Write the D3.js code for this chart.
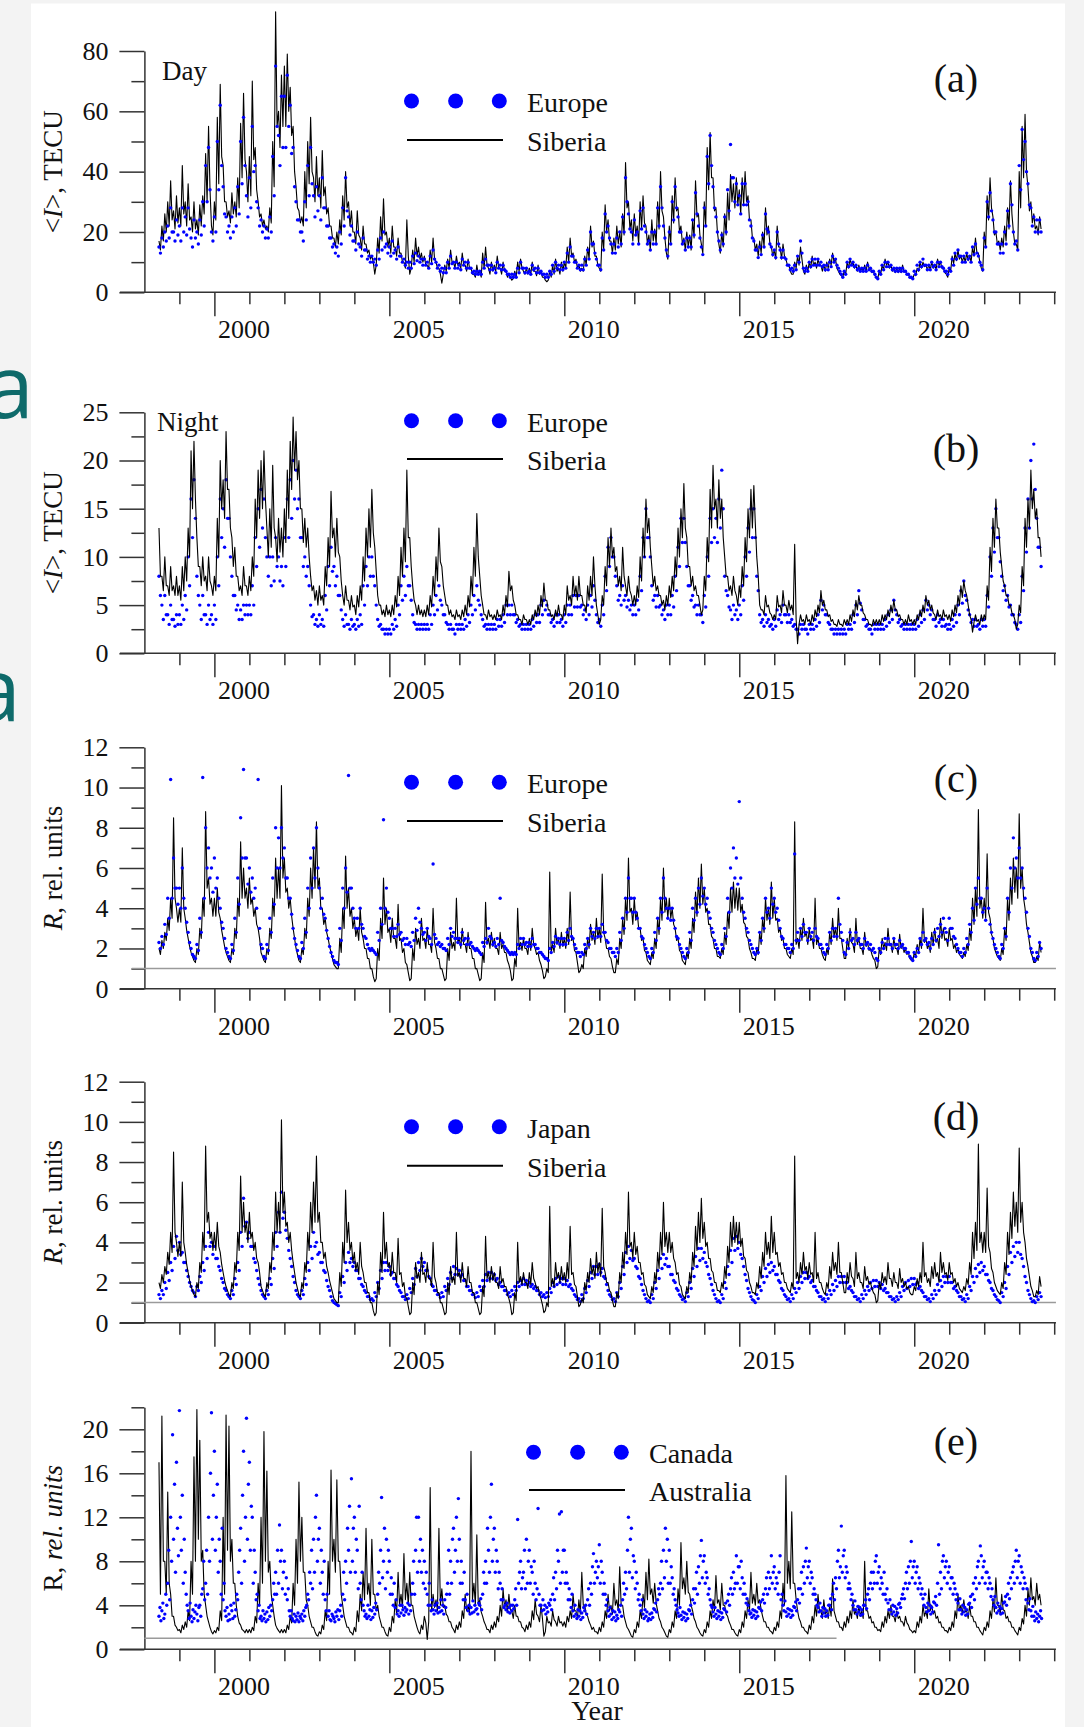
<!DOCTYPE html>
<html>
<head>
<meta charset="utf-8">
<script src="https://cdn.jsdelivr.net/npm/d3@7"></script>
<style>
  body { margin: 0; background: #f3f3f3; }
  svg { display: block; }
</style>
</head>
<body>
<svg id="chart" width="1084" height="1727"></svg>
<script>
// samples start in June 1998: one upper and one lower reading per month
// (canadaR: three readings per month)
const startYear = 1998 + 5 / 12;

const majorYears = [2000, 2005, 2010, 2015, 2020];

// (a) day, TECU
const siberiaDay = [
  17, 22, 26, 30, 37, 27, 32,
  28, 42, 30, 36, 25, 30, 24, 29, 32, 46, 55, 22,
  30, 58, 69, 42, 30, 27, 33, 30, 38, 56, 66, 40,
  45, 70, 48, 30, 26, 24, 22, 28, 50, 93, 60, 72,
  75, 79, 68, 55, 35, 27, 25, 40, 50, 58, 38, 45,
  38, 47, 35, 28, 22, 18, 20, 24, 32, 40, 30, 27,
  20, 27, 18, 22, 16, 14, 12, 6, 18, 25, 31, 20,
  18, 22, 15, 18, 13, 10, 24, 6, 14, 18, 15, 13,
  12, 9, 14, 18, 10, 8, 3, 9, 11, 14, 10, 12,
  10, 13, 9, 11, 8, 6, 9, 7, 13, 15, 8, 10,
  9, 12, 8, 10, 7, 6, 4, 7, 10, 11, 7, 8,
  8, 10, 7, 9, 7, 5, 3.5, 7, 9, 11, 8, 10,
  10, 15, 18, 13, 11, 9, 8, 12, 15, 22, 17, 12,
  8, 20, 29, 24, 17, 18, 22, 20, 26, 43, 30, 24,
  26, 22, 30, 32, 22, 19, 24, 21, 30, 40, 25, 13,
  22, 32, 38, 28, 22, 18, 20, 19, 24, 37, 26, 16,
  30, 48, 53, 38, 28, 16, 20, 26, 33, 39, 36, 38,
  34, 38, 40, 32, 24, 18, 16, 17, 20, 28, 22, 15,
  14, 22, 15, 16, 11, 9, 6, 10, 12, 15, 7, 9,
  10, 12, 10, 11, 9, 9, 10, 11, 13, 11, 7, 5.5,
  7, 10, 11, 10, 9, 9, 8, 9, 10, 8, 7, 5,
  7, 9, 11, 10, 9, 8, 8, 8, 9, 7, 6, 5,
  6, 8, 10, 10, 9, 9, 10, 9, 11, 10, 8, 6,
  8, 12, 13, 14, 12, 12, 13, 12, 15, 18, 13, 8,
  20, 32, 38, 25, 20, 17, 18, 22, 28, 37, 20, 16,
  40, 55, 59, 35, 30, 26, 22, 25
];
const siberiaDayLow = [
  14, 17, 20, 22, 24, 21, 23,
  22, 26, 22, 24, 20, 21, 19, 22, 26, 30, 34, 19,
  24, 36, 45, 30, 25, 23, 26, 25, 28, 38, 44, 30,
  32, 44, 34, 25, 22, 21, 20, 23, 35, 55, 48, 55,
  55, 60, 52, 40, 28, 23, 22, 28, 36, 40, 30, 32,
  28, 32, 26, 22, 18, 15, 16, 19, 24, 28, 22, 20,
  16, 19, 14, 16, 13, 11, 10, 9, 13, 17, 19, 15,
  13, 15, 12, 13, 10, 8, 12, 8, 10, 12, 11, 10,
  9, 8, 10, 11, 8, 6, 6, 7, 8, 10, 8, 9,
  8, 9, 7, 8, 6, 5, 6, 5, 8, 9, 6, 7,
  7, 8, 6, 7, 5, 5, 4.5, 5, 7, 8, 6, 6,
  6, 7, 5.5, 6, 5, 4, 4, 5, 6, 7, 6, 7,
  8, 10, 12, 10, 8, 7, 7, 9, 11, 15, 12, 9,
  7, 14, 20, 17, 13, 14, 16, 15, 19, 28, 21, 17,
  19, 16, 21, 23, 16, 14, 17, 16, 21, 27, 18, 11,
  16, 23, 27, 20, 16, 14, 15, 14, 18, 25, 19, 13,
  22, 34, 38, 27, 20, 13, 15, 19, 24, 30, 28, 29,
  26, 29, 30, 24, 18, 14, 12, 13, 15, 19, 16, 12,
  11, 15, 11, 12, 9, 7, 6, 8, 9, 11, 6, 7,
  8, 9, 8, 9, 7, 7, 8, 9, 10, 8, 6, 5,
  6, 8, 9, 8, 7, 7, 7, 7, 8, 6.5, 5.5, 4.5,
  6, 7.5, 9, 8, 7, 6.5, 6.5, 6.5, 7, 6, 5, 4.5,
  5.5, 7, 8, 8.5, 7.5, 7.5, 8, 7.5, 9, 8, 6.5, 5,
  7, 9.5, 10.5, 11, 10, 10, 10.5, 10, 12, 13, 10, 7,
  15, 24, 28, 19, 16, 14, 15, 17, 21, 26, 16, 14,
  28, 38, 40, 27, 23, 21, 19, 21
];
const europeDay = [
  15, 18, 20, 22, 28, 20, 24,
  22, 28, 25, 28, 18, 24, 20, 24, 30, 42, 48, 20,
  25, 50, 62, 35, 25, 22, 25, 28, 35, 50, 58, 32,
  38, 55, 42, 28, 24, 22, 21, 25, 45, 75, 52, 65,
  65, 72, 62, 48, 30, 24, 20, 30, 42, 48, 32, 35,
  32, 38, 28, 22, 18, 16, 15, 20, 28, 38, 25, 22,
  17, 20, 15, 18, 14, 12, 12, 11, 14, 18, 20, 16,
  15, 17, 14, 15, 12, 11, 10, 10, 12, 13, 12, 11,
  11, 10, 12, 14, 10, 9, 8, 8, 10, 12, 10, 10,
  9, 11, 10, 10, 8, 7, 7, 7, 10, 11, 9, 9,
  8, 10, 9, 9, 7, 6, 6, 6, 8, 10, 8, 8,
  7, 9, 8, 8, 7, 6, 6, 7, 9, 10, 9, 9,
  10, 13, 15, 12, 10, 9, 9, 11, 14, 20, 16, 11,
  9, 18, 26, 22, 16, 16, 18, 20, 25, 38, 26, 20,
  24, 20, 27, 28, 20, 17, 20, 20, 28, 35, 22, 14,
  20, 30, 35, 25, 20, 17, 18, 18, 24, 33, 22, 15,
  28, 45, 52, 35, 25, 17, 19, 25, 34, 49, 38, 36,
  32, 36, 36, 30, 22, 17, 14, 15, 19, 26, 20, 15,
  14, 20, 14, 14, 11, 9, 8, 9, 12, 17, 8, 8,
  10, 11, 11, 11, 10, 9, 9, 10, 12, 11, 8, 6,
  7, 10, 11, 10, 9, 8, 8, 8, 9, 8, 7, 5,
  7, 9, 10, 10, 9, 8, 8, 8, 8, 7, 6, 5,
  7, 9, 10, 11, 9, 9, 10, 9, 10, 10, 8, 7,
  8, 11, 13, 14, 12, 12, 13, 12, 15, 16, 12, 9,
  18, 30, 33, 24, 20, 16, 16, 20, 27, 36, 20, 17,
  42, 54, 50, 36, 28, 25, 24, 24
];
const europeDayLow = [
  13, 15, 17, 18, 20, 17, 19,
  17, 20, 19, 21, 15, 18, 16, 19, 22, 30, 34, 17,
  20, 34, 42, 26, 20, 18, 20, 22, 26, 36, 42, 25,
  28, 40, 30, 22, 20, 18, 18, 20, 32, 55, 42, 48,
  48, 55, 46, 35, 24, 20, 17, 24, 32, 36, 25, 27,
  24, 28, 22, 18, 15, 13, 12, 16, 22, 27, 19, 17,
  14, 16, 12, 14, 11, 10, 10, 9, 11, 14, 15, 13,
  12, 13, 11, 12, 10, 9, 8, 8, 9.5, 10.5, 10, 9,
  9, 8, 9.5, 11, 8, 7, 6.5, 6.5, 8, 9.5, 8, 8,
  7.5, 9, 8, 8, 6.5, 6, 6, 6, 8, 9, 7.5, 7.5,
  6.5, 8, 7.5, 7.5, 6, 5, 5, 5, 6.5, 8, 6.5, 6.5,
  6, 7.5, 6.5, 6.5, 6, 5, 5, 6, 7, 8, 7.5, 7.5,
  8, 10, 12, 10, 8, 7.5, 7.5, 9, 11, 16, 13, 9,
  7.5, 14, 20, 18, 13, 13, 15, 16, 20, 30, 21, 16,
  19, 16, 21, 22, 16, 14, 16, 16, 22, 28, 18, 12,
  16, 24, 28, 20, 16, 14, 15, 15, 19, 26, 18, 12.5,
  22, 36, 42, 28, 20, 14, 16, 20, 27, 38, 30, 29,
  26, 29, 29, 24, 18, 14, 11.5, 12.5, 15, 21, 16, 12.5,
  11.5, 16, 11.5, 11.5, 9, 7.5, 7, 7.5, 10, 13, 7, 7,
  8.5, 9, 9, 9, 8.5, 7.5, 7.5, 8.5, 10, 9, 7, 5,
  6, 8.5, 9, 8.5, 7.5, 7, 7, 7, 7.5, 7, 6, 4.5,
  6, 7.5, 8.5, 8.5, 7.5, 7, 7, 7, 7, 6, 5, 4.5,
  6, 7.5, 8.5, 9, 7.5, 7.5, 8.5, 7.5, 8.5, 8.5, 7, 6,
  7, 9, 11, 12, 10, 10, 11, 10, 12.5, 13, 10, 7.5,
  15, 25, 27, 20, 16, 13, 13, 16, 22, 29, 16, 14,
  34, 44, 40, 29, 22, 20, 20, 20
];

// (b) night, TECU
const siberiaNight = [
  13, 8, 10, 7, 9, 7, 8,
  7, 9, 10, 13, 21, 22, 12, 9, 10, 8, 10, 7,
  8, 14, 20, 18, 23, 17, 12, 11, 8, 7, 9, 7,
  8, 10, 16, 19, 20, 21, 13, 15, 19.5, 12, 14, 13,
  15, 19, 22, 24.5, 23, 20, 15, 14, 13, 8, 7, 6.5,
  7, 6, 9, 12, 16.8, 13, 14, 10, 6, 7, 5.5, 6,
  5, 6, 7, 10, 13, 15, 17, 11, 6, 5, 4.5, 5,
  4.5, 5, 6, 8, 11, 13, 19, 12, 7, 5, 5, 4.5,
  4.5, 5, 6, 8, 10, 13, 9, 6, 5, 4.5, 4, 4.5,
  4, 4.5, 5, 6, 8, 11, 14.5, 8, 5, 4, 4.5, 4,
  4, 4.5, 4, 5, 6, 8.5, 7, 5, 4, 3.5, 4, 3.5,
  3.5, 4, 4.5, 5, 6, 7.3, 5.5, 4.5, 4, 4.5, 5, 4,
  5, 7, 6, 8, 7, 8, 6, 5, 7, 8, 10, 5,
  3, 6, 9, 12, 13, 11, 9, 8, 11, 7, 8, 6,
  6, 7, 10, 13, 16, 14, 9, 8, 7, 6, 5.5, 6,
  7, 8, 10, 13, 15, 17.6, 12, 9, 8, 7, 6, 4,
  8, 12, 17, 19.5, 16, 18, 16, 10, 8, 7, 8, 6,
  7, 9, 12, 15, 17, 17.4, 10, 5, 4.5, 6, 5, 4,
  4, 6, 5, 6.5, 5, 5.5, 5, 11.3, 1, 4, 3.5, 4,
  3.5, 4, 4.5, 5, 6.5, 5.5, 4.5, 4, 3.5, 3, 3.5, 3,
  3.5, 3.5, 4, 4.5, 5.5, 6, 5, 4, 3.5, 3, 3.5, 3.5,
  3.5, 4, 4, 4.5, 5, 5.5, 4.5, 4, 3.5, 3.5, 4, 3.5,
  3.5, 4, 4.5, 5, 6, 5.5, 5, 4, 4.5, 4, 4.5, 4,
  4, 4.5, 5, 6, 7, 7.5, 6, 4, 2.2, 4, 3.5, 4,
  4, 7, 11, 14, 16, 13, 9, 7, 6, 5, 4, 2.5,
  5, 9, 14, 16, 19, 17, 15, 12
];
const siberiaNightLow = [
  8, 6.5, 7, 6, 6.5, 6, 6,
  5.5, 6.5, 7.5, 10, 15, 16, 9, 7, 7.5, 6.5, 7.5, 6,
  6.5, 10, 15, 14, 17, 13, 9, 8, 6.5, 6, 7, 6,
  6.5, 8, 12, 14, 15, 16, 10, 11, 13, 9.5, 10.5, 10,
  11.5, 14, 17, 19, 18, 15, 11.5, 11, 10, 6.5, 5.5, 5,
  5.5, 5, 7, 9, 12, 10, 10.5, 7.5, 5, 5.5, 4.5, 4.8,
  4, 4.8, 5.5, 7.5, 10, 11, 12.5, 8.5, 5, 4, 3.8, 4,
  3.8, 4, 4.8, 6, 8, 9.5, 12, 9, 5.5, 4, 4, 3.8,
  3.8, 4, 4.8, 6, 7.5, 9.5, 7, 5, 4, 3.8, 3.5, 3.8,
  3.5, 3.8, 4, 4.8, 6, 8, 10, 6, 4, 3.5, 3.8, 3.5,
  3.5, 3.8, 3.5, 4, 4.8, 6.5, 5.5, 4, 3.5, 3, 3.5, 3,
  3, 3.5, 3.8, 4, 4.8, 5.5, 4.5, 3.8, 3.5, 3.8, 4, 3.5,
  4, 5.5, 5, 6, 5.5, 6, 5, 4.2, 5.5, 6, 7, 4,
  3.5, 5, 7, 9, 10, 8.5, 7, 6.5, 8, 6, 6.5, 5,
  5, 5.8, 7.5, 10, 12.5, 11, 7, 6.5, 6, 5, 4.5, 5,
  5.8, 6.5, 8, 10, 12, 13, 9, 7, 6.5, 6, 5, 4.5,
  6.5, 9.5, 13, 15, 13, 14, 12, 8, 6.5, 6, 6.5, 5,
  5.8, 7, 9.5, 12, 13, 13.5, 8, 4.5, 4, 4.8, 4.2, 3.5,
  3.5, 4.8, 4.2, 5, 4.2, 4.5, 4, 3.5, 3, 3.3, 3, 3.3,
  3, 3.3, 3.8, 4.2, 5, 4.5, 3.8, 3.3, 3, 2.8, 3, 2.8,
  3, 3, 3.3, 3.8, 4.5, 5, 4.2, 3.5, 3, 2.8, 3, 3,
  3, 3.3, 3.5, 3.8, 4.2, 4.5, 3.8, 3.5, 3, 3, 3.3, 3,
  3, 3.5, 3.8, 4.2, 5, 4.5, 4.2, 3.5, 3.8, 3.5, 3.8, 3.5,
  3.3, 3.8, 4.2, 5, 5.8, 6.5, 5, 3.5, 3.2, 3.3, 3, 3.3,
  3.5, 5.5, 8.5, 11, 13, 10.5, 7.5, 6, 5, 4.2, 3.5, 3,
  4.2, 7, 11, 13, 15, 14, 12, 10
];
const europeNight = [
  8, 5, 6, 4, 5, 3.5, 4,
  4, 5, 6, 10, 16, 18, 8, 5, 6, 4, 5, 4,
  5, 10, 16, 15, 18, 14, 8, 6, 5, 4.5, 5, 5,
  5, 7, 12, 15, 17, 16, 10, 10, 10, 12, 10, 9,
  12, 16, 18, 20, 19, 16, 12, 10, 9, 5, 4, 3.5,
  4, 3.5, 6, 9, 11, 9, 8, 6, 3.5, 4, 3, 3.5,
  3, 3.5, 4, 7, 9, 10, 10, 7, 3.5, 3, 2.5, 2.5,
  2.5, 3, 3.5, 5, 7, 8, 9, 7, 4, 3, 3, 3,
  3, 3, 4, 5, 6, 7, 5, 4, 3, 3, 2.5, 3,
  3, 3, 3.5, 4, 5, 6, 7, 5, 3.5, 3, 3, 3,
  3, 3.5, 3.5, 4, 5, 5, 5, 4, 3.5, 3, 3, 3,
  3, 3.5, 4, 4, 5, 5.5, 5, 4, 3.5, 4, 4, 3.5,
  4, 5, 5, 6, 6, 6, 5, 4.5, 5, 6, 7, 4,
  3.5, 5, 8, 11, 12, 10, 7, 6, 7, 6, 5.5, 5,
  5, 5.5, 8, 12, 15, 12, 7, 6, 6, 5, 4.5, 5,
  5, 6, 8, 11, 14, 14, 9, 7, 6, 5, 5, 4,
  6, 10, 14, 15, 14, 16, 19, 8, 6, 4.5, 5, 4.5,
  5, 7, 10, 13, 15, 15, 8, 4, 3.5, 4, 3.5, 3,
  3.5, 4.5, 4, 5, 4, 4, 3.5, 3, 2.5, 3, 3, 2.5,
  3, 3, 3.5, 4, 5.5, 5, 4, 3, 2.5, 2.5, 2.5, 2.5,
  2.5, 3, 3, 4, 5, 6.5, 4.5, 3.5, 3, 2.5, 3, 3,
  3, 3, 3.5, 4, 4.5, 5.5, 4, 3.5, 3, 3, 3, 3,
  3, 3.5, 4, 4.5, 5.5, 5, 4.5, 3.5, 4, 3.5, 3.5, 3,
  3, 3.5, 4, 5, 6.5, 7.5, 5.5, 4, 3.5, 3.5, 3, 3.5,
  3.5, 6, 10, 13, 15, 12, 8, 7, 6, 5, 4, 3,
  4, 8, 13, 16, 20, 21.7, 14, 11
];
const europeNightLow = [
  6, 3.5, 4, 3, 3.5, 2.8, 3,
  3, 3.5, 4.5, 7, 12, 14, 6, 3.5, 4, 3, 3.5, 3,
  3.5, 7, 12, 11, 14, 10, 6, 4.5, 3.5, 3.5, 4, 4,
  4, 5, 9, 11, 13, 12, 8, 7, 7.5, 9, 7.5, 7,
  9, 12, 14, 16, 15, 12, 9, 8, 7, 3.8, 3, 2.8,
  3, 2.8, 4.5, 7, 8.5, 7, 6, 4.5, 2.8, 3, 2.5, 2.8,
  2.5, 2.8, 3, 5, 7, 8, 8, 5, 2.8, 2.5, 2, 2,
  2, 2.5, 2.8, 4, 5.5, 6, 7, 5.5, 3.2, 2.5, 2.5, 2.5,
  2.5, 2.5, 3, 4, 4.5, 5.5, 4, 3.2, 2.5, 2.5, 2, 2.5,
  2.5, 2.5, 2.8, 3.2, 4, 4.5, 5.5, 4, 2.8, 2.5, 2.5, 2.5,
  2.5, 2.8, 2.8, 3.2, 4, 4, 4, 3.2, 2.8, 2.5, 2.5, 2.5,
  2.5, 2.8, 3.2, 3.2, 4, 4.5, 4, 3.2, 2.8, 3.2, 3.2, 2.8,
  3.2, 4, 4, 4.8, 4.8, 4.8, 4, 3.5, 4, 4.8, 5.5, 3.2,
  2.8, 4, 6.5, 9, 10, 8, 5.5, 5, 5.5, 4.8, 4.5, 4,
  4, 4.5, 6.5, 10, 12, 10, 5.5, 4.8, 4.8, 4, 3.5, 4,
  4, 4.8, 6.5, 9, 11.5, 11.5, 7, 5.5, 4.8, 4, 4, 3.2,
  4.8, 8, 11.5, 12, 11.5, 13, 15, 6.5, 4.8, 3.5, 4, 3.5,
  4, 5.5, 8, 10.5, 12, 12, 6.5, 3.2, 2.8, 3.2, 2.8, 2.5,
  2.8, 3.5, 3.2, 4, 3.2, 3.2, 2.8, 2.5, 2, 2.5, 2.5, 2,
  2.5, 2.5, 2.8, 3.2, 4.5, 4, 3.2, 2.5, 2, 2, 2, 2,
  2, 2.5, 2.5, 3.2, 4, 5.2, 3.5, 2.8, 2.5, 2, 2.5, 2.5,
  2.5, 2.5, 2.8, 3.2, 3.5, 4.5, 3.2, 2.8, 2.5, 2.5, 2.5, 2.5,
  2.5, 2.8, 3.2, 3.5, 4.5, 4, 3.5, 2.8, 3.2, 2.8, 2.8, 2.5,
  2.5, 2.8, 3.2, 4, 5.2, 6, 4.5, 3.2, 2.8, 2.8, 2.5, 2.8,
  2.8, 4.8, 8, 10.5, 12, 9.5, 6.5, 5.5, 4.8, 4, 3.2, 2.5,
  3.2, 6.5, 10.5, 13, 16, 17, 11, 9
];

// (c), (d) R, rel. units -- the Siberia curve is the same in both panels
const siberiaR = [
  2.0, 2.4, 2.8, 3.5, 4.5, 8.5, 4.0,
  4.0, 7.0, 3.5, 2.5, 1.8, 1.4, 2.0, 3.0, 4.5, 8.8, 5.5, 4.5,
  4.5, 5.0, 3.5, 2.5, 1.8, 1.4, 2.0, 3.0, 4.5, 7.3, 6.0, 5.0,
  5.5, 4.5, 4.0, 3.0, 1.8, 1.4, 2.0, 3.0, 4.5, 6.5, 6.0, 10.1,
  6.5, 5.0, 4.5, 3.0, 2.0, 1.4, 2.0, 3.0, 4.5, 6.0, 7.0, 8.3,
  5.5, 4.0, 3.5, 2.5, 1.8, 1.2, 1.0, 2.5, 4.0, 6.6, 5.0, 4.0,
  3.5, 3.0, 4.0, 2.5, 2.0, 1.5, 1.0, 0.35, 2.0, 3.5, 5.5, 4.0,
  3.0, 3.5, 2.5, 4.2, 2.5, 2.0, 1.2, 0.4, 2.0, 3.0, 2.5, 3.5,
  2.5, 3.0, 2.2, 4.0, 2.0, 1.5, 1.0, 0.4, 2.0, 2.8, 2.3, 4.5,
  2.5, 3.0, 2.2, 2.8, 2.0, 1.5, 1.0, 0.4, 1.8, 4.3, 2.5, 2.8,
  2.5, 2.0, 2.8, 2.2, 1.8, 1.2, 0.4, 1.5, 4.0, 2.3, 2.5, 2.0,
  2.5, 3.0, 2.0, 1.8, 1.2, 0.5, 1.0, 5.8, 2.2, 3.0, 2.5, 2.8,
  2.5, 3.0, 4.8, 2.5, 1.8, 0.8, 1.2, 2.0, 2.5, 3.2, 2.8, 3.5,
  3.0, 5.7, 2.5, 2.0, 1.5, 0.8, 1.5, 2.5, 3.5, 4.5, 6.5, 4.0,
  4.5, 3.8, 3.0, 2.5, 1.8, 1.3, 1.8, 2.5, 3.5, 4.5, 6.0, 4.5,
  4.5, 4.0, 3.0, 2.5, 1.8, 1.3, 1.8, 2.5, 3.5, 4.8, 5.5, 6.2,
  5.0, 4.0, 3.2, 2.5, 2.0, 1.6, 2.0, 2.8, 3.8, 5.0, 5.3, 5.0,
  5.0, 4.2, 3.2, 2.5, 1.8, 1.5, 2.0, 2.8, 3.5, 4.5, 4.0, 5.3,
  4.5, 3.5, 3.0, 2.5, 2.0, 1.6, 2.0, 8.3, 2.5, 3.0, 3.5, 2.8,
  3.0, 2.5, 4.5, 2.5, 2.0, 1.5, 2.0, 2.8, 3.5, 3.0, 4.0, 2.5,
  1.5, 2.5, 3.0, 2.2, 3.5, 2.5, 2.0, 2.8, 2.3, 2.0, 1.5, 1.0,
  2.0, 2.5, 2.3, 3.0, 2.2, 2.5, 2.0, 2.7, 2.2, 2.0, 1.8, 1.4,
  1.8, 2.2, 2.5, 4.0, 2.5, 2.2, 2.8, 3.0, 2.5, 3.5, 3.0, 2.5,
  3.0, 2.5, 2.2, 2.0, 1.6, 1.8, 2.2, 3.0, 4.5, 5.0, 8.9, 4.5,
  4.5, 6.7, 3.5, 2.5, 1.8, 1.5, 2.0, 3.0, 4.5, 5.5, 6.5, 6.0,
  8.7, 6.0, 4.0, 2.8, 1.8, 1.3, 1.6, 2.3
];
const siberiaRLow = [
  1.7, 2.0, 2.4, 2.9, 3.5, 4.5, 3.3,
  3.3, 4.0, 2.9, 2.1, 1.6, 1.3, 1.7, 2.5, 3.6, 5.0, 4.2, 3.6,
  3.6, 3.8, 2.9, 2.1, 1.6, 1.3, 1.7, 2.5, 3.6, 4.5, 4.5, 4.0,
  4.2, 3.6, 3.2, 2.5, 1.6, 1.3, 1.7, 2.5, 3.6, 4.5, 4.5, 5.5,
  4.8, 4.0, 3.6, 2.5, 1.7, 1.3, 1.7, 2.5, 3.6, 4.5, 5.0, 5.0,
  4.0, 3.2, 2.8, 2.1, 1.5, 1.1, 1.0, 1.8, 3.0, 4.0, 3.6, 3.0,
  2.6, 2.4, 2.8, 2.0, 1.5, 1.0, 0.6, 0.5, 1.4, 2.5, 3.2, 2.8,
  2.3, 2.5, 2.0, 2.4, 1.8, 1.3, 0.8, 0.5, 1.4, 2.2, 2.0, 2.4,
  2.0, 2.2, 1.8, 2.3, 1.5, 1.0, 0.7, 0.5, 1.4, 2.0, 1.9, 2.3,
  2.0, 2.2, 1.8, 2.0, 1.5, 1.0, 0.7, 0.5, 1.3, 2.2, 2.0, 2.1,
  2.0, 1.7, 2.0, 1.8, 1.4, 0.9, 0.5, 1.1, 2.0, 1.9, 2.0, 1.7,
  1.9, 2.2, 1.7, 1.4, 0.9, 0.6, 0.8, 1.8, 1.8, 2.2, 2.0, 2.1,
  2.0, 2.2, 2.4, 1.9, 1.3, 0.9, 1.0, 1.6, 2.0, 2.4, 2.2, 2.5,
  2.3, 2.8, 2.0, 1.6, 1.1, 0.8, 1.2, 2.0, 2.7, 3.4, 3.8, 3.2,
  3.4, 3.0, 2.4, 1.9, 1.4, 1.2, 1.5, 2.0, 2.7, 3.4, 3.8, 3.5,
  3.5, 3.2, 2.4, 1.9, 1.4, 1.2, 1.5, 2.0, 2.8, 3.6, 4.0, 4.2,
  3.8, 3.2, 2.6, 2.0, 1.6, 1.5, 1.7, 2.2, 3.0, 3.8, 4.0, 3.9,
  3.8, 3.3, 2.6, 2.0, 1.5, 1.4, 1.7, 2.2, 2.8, 3.4, 3.2, 3.5,
  3.4, 2.8, 2.4, 2.0, 1.7, 1.5, 1.7, 2.2, 2.0, 2.4, 2.6, 2.2,
  2.4, 2.0, 2.2, 2.0, 1.7, 1.4, 1.7, 2.2, 2.6, 2.4, 2.5, 2.0,
  1.5, 2.0, 2.3, 1.8, 2.2, 2.0, 1.7, 2.1, 1.9, 1.7, 1.4, 1.1,
  1.7, 2.0, 1.9, 2.2, 1.8, 2.0, 1.7, 2.0, 1.8, 1.7, 1.5, 1.4,
  1.6, 1.8, 2.0, 2.3, 2.0, 1.8, 2.2, 2.3, 2.0, 2.5, 2.4, 2.1,
  2.4, 2.0, 1.8, 1.7, 1.5, 1.6, 1.9, 2.4, 3.2, 3.6, 4.0, 3.5,
  3.5, 3.8, 2.7, 2.0, 1.6, 1.4, 1.7, 2.4, 3.4, 4.2, 4.8, 4.5,
  5.0, 4.5, 3.2, 2.3, 1.6, 1.3, 1.4, 1.8
];
const europeR = [
  2.3, 2.6, 3.2, 4.5, 10.4, 6.5, 5.0,
  5.0, 6.0, 4.0, 2.8, 2.0, 1.6, 2.2, 3.5, 10.5, 8.0, 7.0, 6.0,
  6.5, 5.5, 4.0, 3.0, 2.0, 1.6, 2.2, 3.5, 5.5, 8.5, 10.9, 6.5,
  6.0, 5.5, 5.0, 10.4, 2.2, 1.6, 2.2, 3.5, 5.5, 8.0, 7.5, 8.0,
  7.0, 5.5, 4.5, 3.0, 2.2, 1.6, 2.3, 3.5, 5.0, 6.5, 7.0, 8.0,
  5.0, 4.5, 3.5, 2.5, 1.8, 1.4, 1.3, 3.0, 5.0, 6.0, 10.6, 5.0,
  3.5, 3.5, 4.0, 3.0, 2.5, 2.0, 2.0, 1.8, 2.8, 4.0, 8.4, 5.0,
  3.5, 3.0, 3.0, 3.2, 2.8, 2.5, 2.5, 2.3, 2.8, 3.5, 4.0, 3.0,
  2.8, 3.0, 2.5, 6.2, 2.5, 2.3, 2.2, 2.0, 2.5, 3.0, 2.8, 2.5,
  2.5, 2.8, 2.5, 2.5, 2.3, 2.0, 2.0, 1.8, 2.3, 2.5, 3.0, 2.5,
  2.3, 2.5, 4.5, 2.3, 2.0, 1.8, 1.8, 1.8, 2.2, 2.5, 2.5, 2.3,
  2.3, 2.5, 2.2, 2.0, 1.8, 1.6, 1.5, 2.0, 2.3, 2.6, 2.5, 2.5,
  2.5, 2.8, 3.0, 2.5, 2.0, 1.8, 1.8, 2.2, 2.5, 3.0, 2.8, 3.0,
  3.0, 3.2, 2.8, 2.3, 2.0, 1.8, 2.0, 2.8, 3.5, 4.5, 5.5, 4.5,
  4.5, 3.5, 3.0, 2.5, 2.0, 1.6, 2.0, 2.8, 3.5, 4.5, 5.5, 4.0,
  4.0, 4.0, 3.0, 2.5, 2.0, 1.6, 2.0, 2.8, 4.0, 4.5, 5.0, 5.5,
  5.0, 4.5, 3.5, 2.8, 2.2, 1.8, 2.2, 3.0, 4.5, 6.0, 7.0, 6.5,
  9.3, 4.5, 3.5, 2.8, 2.2, 1.8, 2.0, 2.8, 3.5, 4.5, 4.0, 5.0,
  4.5, 4.0, 3.0, 2.5, 2.2, 2.0, 2.2, 6.7, 2.8, 3.0, 3.2, 2.8,
  3.0, 2.8, 3.0, 2.5, 2.2, 1.8, 2.2, 2.8, 3.0, 3.0, 4.5, 2.8,
  1.8, 2.3, 2.8, 2.5, 2.8, 2.5, 2.2, 2.5, 2.3, 2.2, 2.0, 1.5,
  2.0, 2.3, 2.5, 2.5, 2.2, 2.5, 2.2, 2.4, 2.2, 2.0, 1.8, 1.5,
  1.8, 2.0, 2.5, 2.8, 2.5, 2.3, 2.5, 2.8, 3.0, 3.2, 3.5, 2.8,
  3.5, 3.0, 2.5, 2.0, 1.8, 2.0, 2.5, 3.2, 4.0, 5.0, 5.5, 4.5,
  4.0, 5.0, 3.2, 2.5, 2.0, 1.6, 2.2, 3.0, 4.5, 6.0, 7.5, 6.5,
  7.0, 6.0, 4.5, 3.0, 2.0, 1.5, 1.8, 2.3
];
const europeRLow = [
  2.0, 2.2, 2.7, 3.5, 4.5, 5.0, 4.2,
  4.0, 4.5, 3.3, 2.3, 1.7, 1.5, 1.9, 2.8, 4.5, 6.0, 5.5, 4.8,
  5.0, 4.5, 3.3, 2.5, 1.8, 1.5, 1.9, 2.8, 4.2, 6.5, 6.5, 5.2,
  4.8, 4.5, 4.0, 3.0, 2.0, 1.5, 1.9, 2.8, 4.2, 6.0, 6.0, 6.5,
  5.5, 4.5, 3.7, 2.5, 1.9, 1.5, 2.0, 2.8, 4.0, 5.0, 5.5, 6.0,
  4.0, 3.7, 2.9, 2.1, 1.6, 1.3, 1.2, 2.4, 4.0, 4.8, 5.0, 4.0,
  3.0, 3.0, 3.2, 2.6, 2.2, 1.9, 1.9, 1.7, 2.4, 3.2, 4.0, 3.8,
  3.0, 2.6, 2.6, 2.7, 2.4, 2.2, 2.2, 2.1, 2.4, 2.9, 3.3, 2.7,
  2.4, 2.6, 2.2, 2.7, 2.2, 2.1, 2.0, 1.9, 2.2, 2.6, 2.5, 2.3,
  2.2, 2.4, 2.2, 2.2, 2.1, 1.9, 1.9, 1.7, 2.1, 2.3, 2.6, 2.2,
  2.1, 2.2, 2.4, 2.1, 1.9, 1.7, 1.7, 1.7, 2.0, 2.2, 2.2, 2.1,
  2.1, 2.2, 2.0, 1.8, 1.7, 1.5, 1.4, 1.8, 2.1, 2.3, 2.2, 2.2,
  2.2, 2.4, 2.6, 2.2, 1.8, 1.6, 1.7, 2.0, 2.2, 2.6, 2.5, 2.6,
  2.6, 2.8, 2.4, 2.0, 1.8, 1.6, 1.8, 2.4, 3.0, 3.8, 4.5, 3.8,
  3.8, 3.0, 2.6, 2.2, 1.8, 1.5, 1.8, 2.4, 3.0, 3.8, 4.5, 3.5,
  3.4, 3.4, 2.6, 2.2, 1.8, 1.5, 1.8, 2.4, 3.4, 3.8, 4.2, 4.6,
  4.2, 3.8, 3.0, 2.4, 2.0, 1.7, 2.0, 2.6, 3.8, 5.0, 5.5, 5.2,
  5.5, 3.8, 3.0, 2.4, 2.0, 1.7, 1.8, 2.4, 3.0, 3.8, 3.5, 4.2,
  3.8, 3.4, 2.6, 2.2, 2.0, 1.8, 2.0, 2.4, 2.4, 2.6, 2.8, 2.4,
  2.6, 2.4, 2.6, 2.2, 2.0, 1.7, 2.0, 2.4, 2.6, 2.6, 3.2, 2.4,
  1.7, 2.0, 2.4, 2.2, 2.4, 2.2, 2.0, 2.2, 2.0, 1.9, 1.8, 1.4,
  1.8, 2.0, 2.2, 2.2, 2.0, 2.2, 2.0, 2.1, 2.0, 1.8, 1.6, 1.4,
  1.6, 1.8, 2.2, 2.4, 2.2, 2.0, 2.2, 2.4, 2.6, 2.8, 3.0, 2.4,
  3.0, 2.6, 2.2, 1.8, 1.6, 1.8, 2.2, 2.8, 3.4, 4.2, 4.5, 3.8,
  3.4, 4.0, 2.8, 2.2, 1.8, 1.5, 2.0, 2.6, 3.8, 5.0, 6.0, 5.5,
  5.5, 5.0, 3.8, 2.6, 1.8, 1.4, 1.6, 2.0
];
const japanR = [
  1.4, 1.6, 2.0, 2.5, 3.0, 3.8, 4.3,
  4.0, 3.5, 3.0, 2.3, 1.8, 1.5, 1.8, 2.3, 3.0, 3.8, 4.5, 4.0,
  3.8, 3.2, 2.6, 2.0, 1.6, 1.3, 1.6, 2.2, 3.0, 4.5, 6.2, 5.0,
  4.5, 3.8, 3.0, 2.2, 1.6, 1.3, 1.6, 2.2, 3.2, 4.5, 5.5, 6.5,
  5.5, 4.2, 3.2, 2.3, 1.6, 1.3, 1.6, 2.2, 3.0, 3.8, 4.5, 4.0,
  3.5, 3.0, 2.5, 1.8, 1.3, 1.0, 0.9, 1.5, 2.3, 3.0, 3.5, 3.2,
  3.0, 2.6, 2.2, 1.8, 1.5, 1.3, 1.2, 1.5, 2.0, 2.6, 3.0, 3.0,
  2.8, 2.5, 2.2, 1.8, 1.5, 1.3, 1.4, 1.7, 2.2, 2.7, 3.0, 3.2,
  3.0, 2.6, 2.2, 1.8, 1.6, 1.4, 1.5, 1.8, 2.2, 2.5, 2.8, 2.7,
  2.6, 2.4, 2.1, 1.8, 1.6, 1.4, 1.5, 1.8, 2.1, 2.4, 2.5, 2.5,
  2.4, 2.2, 2.0, 1.8, 1.6, 1.5, 1.6, 1.8, 2.0, 2.1, 2.2, 2.1,
  2.0, 1.9, 1.8, 1.6, 1.5, 1.4, 1.5, 1.7, 2.0, 2.2, 2.3, 2.2,
  2.2, 2.1, 1.9, 1.6, 1.3, 1.2, 1.4, 1.7, 2.1, 2.5, 2.8, 2.8,
  2.9, 2.7, 2.2, 1.6, 1.3, 1.2, 1.5, 2.0, 2.8, 3.5, 3.8, 3.6,
  3.2, 2.7, 2.2, 1.6, 1.2, 1.1, 1.4, 2.0, 2.6, 3.2, 3.4, 3.2,
  2.8, 2.4, 2.0, 1.6, 1.3, 1.2, 1.5, 2.0, 2.7, 3.3, 3.7, 3.7,
  3.5, 2.8, 2.2, 1.6, 1.2, 1.1, 1.4, 2.0, 2.8, 3.6, 4.2, 4.3,
  4.0, 3.2, 2.4, 1.7, 1.3, 1.1, 1.4, 1.8, 2.3, 2.7, 2.9, 3.0,
  2.8, 2.4, 2.0, 1.6, 1.3, 1.2, 1.4, 1.7, 2.0, 2.3, 2.5, 2.5,
  2.3, 2.1, 1.8, 1.5, 1.3, 1.2, 1.4, 1.6, 1.9, 2.1, 2.3, 2.3,
  2.3, 2.0, 1.8, 1.5, 1.3, 1.2, 1.4, 1.6, 1.8, 2.0, 2.1, 2.1,
  2.0, 1.9, 1.7, 1.5, 1.3, 1.2, 1.3, 1.5, 1.8, 2.0, 2.1, 2.2,
  2.2, 2.0, 1.8, 1.5, 1.3, 1.2, 1.4, 1.6, 1.9, 2.1, 2.3, 2.3,
  2.3, 2.0, 1.8, 1.5, 1.3, 1.2, 1.4, 1.8, 2.3, 2.7, 2.9, 3.0,
  2.8, 2.4, 2.0, 1.6, 1.3, 1.1, 1.5, 2.0, 2.8, 3.5, 3.8, 4.0,
  4.0, 3.2, 2.3, 1.6, 1.2, 1.1, 1.3, 1.5
];
const japanRLow = [
  1.2, 1.4, 1.7, 2.1, 2.6, 3.2, 3.6,
  3.4, 3.0, 2.6, 2.0, 1.6, 1.3, 1.6, 2.0, 2.6, 3.2, 3.8, 3.4,
  3.2, 2.8, 2.2, 1.7, 1.4, 1.2, 1.4, 1.9, 2.6, 3.8, 4.8, 4.2,
  3.8, 3.2, 2.6, 1.9, 1.4, 1.2, 1.4, 1.9, 2.7, 3.8, 4.5, 5.2,
  4.6, 3.6, 2.8, 2.0, 1.4, 1.2, 1.4, 1.9, 2.6, 3.2, 3.8, 3.4,
  3.0, 2.6, 2.1, 1.6, 1.1, 0.95, 0.85, 1.3, 2.0, 2.6, 3.0, 2.8,
  2.6, 2.2, 1.9, 1.6, 1.3, 1.15, 1.1, 1.3, 1.7, 2.2, 2.6, 2.6,
  2.4, 2.2, 1.9, 1.6, 1.3, 1.15, 1.2, 1.5, 1.9, 2.3, 2.6, 2.8,
  2.6, 2.3, 1.9, 1.6, 1.4, 1.25, 1.3, 1.6, 1.9, 2.2, 2.4, 2.4,
  2.3, 2.1, 1.8, 1.6, 1.4, 1.25, 1.3, 1.6, 1.8, 2.1, 2.2, 2.2,
  2.1, 1.9, 1.8, 1.6, 1.4, 1.3, 1.4, 1.6, 1.8, 1.9, 1.9, 1.9,
  1.8, 1.7, 1.6, 1.4, 1.3, 1.25, 1.3, 1.5, 1.8, 1.9, 2.0, 1.9,
  1.9, 1.8, 1.7, 1.4, 1.15, 1.05, 1.2, 1.5, 1.8, 2.2, 2.4, 2.4,
  2.5, 2.3, 1.9, 1.4, 1.15, 1.05, 1.3, 1.7, 2.4, 3.0, 3.2, 3.1,
  2.8, 2.3, 1.9, 1.4, 1.05, 1.0, 1.2, 1.7, 2.2, 2.7, 2.9, 2.8,
  2.4, 2.1, 1.7, 1.4, 1.15, 1.05, 1.3, 1.7, 2.3, 2.8, 3.1, 3.2,
  3.0, 2.4, 1.9, 1.4, 1.05, 1.0, 1.2, 1.7, 2.4, 3.0, 3.6, 3.7,
  3.4, 2.8, 2.1, 1.5, 1.15, 1.0, 1.2, 1.6, 2.0, 2.3, 2.5, 2.6,
  2.4, 2.1, 1.7, 1.4, 1.15, 1.05, 1.2, 1.5, 1.7, 2.0, 2.2, 2.2,
  2.0, 1.8, 1.6, 1.3, 1.15, 1.05, 1.2, 1.4, 1.6, 1.8, 2.0, 2.0,
  2.0, 1.7, 1.6, 1.3, 1.15, 1.05, 1.2, 1.4, 1.6, 1.7, 1.8, 1.8,
  1.7, 1.6, 1.5, 1.3, 1.15, 1.05, 1.15, 1.3, 1.6, 1.7, 1.8, 1.9,
  1.9, 1.7, 1.6, 1.3, 1.15, 1.05, 1.2, 1.4, 1.6, 1.8, 2.0, 2.0,
  2.0, 1.7, 1.6, 1.3, 1.15, 1.05, 1.2, 1.6, 2.0, 2.3, 2.5, 2.6,
  2.4, 2.1, 1.7, 1.4, 1.15, 1.0, 1.3, 1.7, 2.4, 3.0, 3.3, 3.5,
  3.4, 2.8, 2.0, 1.4, 1.05, 1.0, 1.15, 1.3
];

// (e) R, rel. units
const australiaR = [
  17, 21.2, 8, 14.3, 5, 3, 2,
  1.8, 2.2, 2.5, 3.5, 8, 17.5, 21.8, 19, 9, 4, 2.5, 1.6,
  1.7, 2.0, 3.5, 12, 21.3, 20.3, 10, 6, 3, 2.2, 1.7, 1.8,
  1.8, 2.0, 3.0, 6, 12, 19.8, 16.2, 8, 4, 2.2, 1.7, 1.8,
  1.8, 2.2, 3.0, 6, 10, 15.2, 12, 7, 4, 2.5, 2.0, 1.3,
  1.6, 2.2, 3.5, 8, 16.3, 10, 15.4, 8, 4, 2.5, 2.0, 1.5,
  2.0, 3.5, 5, 7, 11, 6, 10, 5, 4, 2.5, 2, 1.3,
  2.0, 3, 4.5, 7, 5, 8.7, 6, 7, 4, 2.5, 1.6, 2.2,
  3, 0.9, 14.7, 5, 4.5, 11, 5.5, 4, 3, 2.5, 1.8, 2.2,
  2.5, 3.5, 5, 4, 18, 6, 10.4, 4.5, 3, 2.2, 1.8, 2.2,
  2.5, 3, 4, 5.5, 4.5, 5, 3.5, 4, 3, 2.5, 1.9, 2.2,
  2.5, 3.5, 4.5, 3, 4, 1.2, 3, 2.5, 3.5, 2.5, 3, 2.5,
  2.5, 3, 3.5, 5, 3.5, 4.5, 7, 4, 3, 2.2, 2, 1.6,
  2, 2.5, 3.5, 5, 4, 6, 4.5, 7.5, 4, 2.5, 1.8, 1.2,
  1.8, 2.5, 3.5, 5, 7, 8.2, 5.5, 6, 3.5, 2.5, 1.8, 1.2,
  1.8, 2.5, 3.5, 5.5, 9.7, 6.5, 8, 5, 3.5, 2.5, 1.8, 1.3,
  1.8, 2.5, 3.5, 4.5, 6.7, 4.5, 6, 4, 3, 2.2, 1.8, 1.3,
  1.8, 2.5, 3.5, 4.5, 7, 5, 6, 4.5, 3, 2.5, 2, 1.6,
  2, 2.5, 3.5, 6, 15.8, 8, 12.5, 6, 3.5, 2.5, 2, 1.6,
  2.2, 3, 4, 5, 3.5, 4.5, 3.5, 4, 6.4, 3, 2.5, 2,
  2.5, 3, 3.5, 4.5, 3.5, 4, 3.5, 8, 3.5, 3, 2.5, 2,
  1.8, 2.5, 3, 3.5, 4, 3, 3.5, 3, 2.5, 3, 2.2, 1.7,
  1.7, 2.5, 3, 4, 3.5, 5.5, 4, 3.5, 3, 2.5, 2, 1.7,
  2, 2.5, 3.5, 5, 4, 4.5, 3.5, 4, 3, 2.5, 2, 1.5,
  2, 2.5, 3.5, 4.5, 6.5, 4, 5, 3.5, 3, 2.5, 2, 1.5,
  2, 2.8, 4, 5.5, 6.5, 4.8, 6, 5
];
const australiaRLow = [
  5, 8, 5, 6, 3, 2.2, 1.7,
  1.5, 1.8, 2.0, 2.6, 5, 8, 10, 8, 5, 3, 2, 1.4,
  1.5, 1.7, 2.6, 5, 9, 8, 6, 4, 2.4, 1.8, 1.5, 1.5,
  1.5, 1.7, 2.4, 4, 6, 8, 7, 5, 3, 1.9, 1.5, 1.5,
  1.5, 1.8, 2.4, 4, 6, 8, 7, 4.5, 3, 2, 1.6, 1.2,
  1.4, 1.8, 2.6, 5, 8, 7, 8, 5, 3, 2, 1.6, 1.3,
  1.6, 2.5, 3.5, 4.5, 5, 4, 5, 3.5, 3, 2, 1.6, 1.2,
  1.6, 2.4, 3.2, 4, 3.8, 4.5, 4, 4, 3, 2, 1.4, 1.8,
  2.4, 2.5, 3.5, 3.8, 3.5, 4, 3.8, 3.2, 2.5, 2, 1.5, 1.8,
  2, 2.8, 3.5, 3.2, 4.5, 4, 4, 3.4, 2.5, 1.8, 1.5, 1.8,
  2, 2.5, 3, 3.8, 3.4, 3.6, 2.8, 3, 2.5, 2, 1.6, 1.8,
  2, 2.7, 3.2, 2.5, 2.8, 1.6, 2.4, 2.1, 2.7, 2.1, 2.4, 2.1,
  2, 2.5, 2.8, 3.5, 2.8, 3.2, 4, 3.2, 2.5, 1.8, 1.6, 1.4,
  1.6, 2, 2.8, 3.5, 3.2, 4, 3.5, 4, 3, 2, 1.5, 1.1,
  1.5, 2, 2.8, 3.8, 4.5, 5, 4.2, 4.2, 2.8, 2, 1.5, 1.1,
  1.5, 2, 2.8, 4, 5.5, 5, 5.2, 4, 2.8, 2, 1.5, 1.2,
  1.5, 2, 2.8, 3.5, 4.2, 3.6, 4, 3.2, 2.5, 1.8, 1.5, 1.2,
  1.5, 2, 2.8, 3.5, 4.2, 4, 4.2, 3.6, 2.5, 2, 1.7, 1.4,
  1.7, 2, 2.8, 4, 6, 5.5, 6, 4.5, 2.8, 2, 1.7, 1.4,
  1.8, 2.4, 3, 3.5, 2.8, 3.2, 2.8, 3, 3.5, 2.5, 2, 1.7,
  2, 2.4, 2.8, 3.2, 2.8, 3, 2.8, 3.5, 2.8, 2.4, 2, 1.7,
  1.6, 2, 2.4, 2.8, 3, 2.5, 2.8, 2.5, 2.1, 2.4, 1.8, 1.5,
  1.5, 2, 2.4, 3, 2.8, 3.5, 3.2, 2.8, 2.4, 2, 1.7, 1.5,
  1.7, 2, 2.8, 3.5, 3.2, 3.4, 2.8, 3, 2.5, 2, 1.7, 1.3,
  1.7, 2, 2.8, 3.4, 4, 3.2, 3.6, 2.8, 2.5, 2, 1.7, 1.3,
  1.7, 2.3, 3, 4, 4.5, 4, 4.5, 4
];
const canadaR = [
  3, 3.8, 2.6, 3.5, 4.2, 2.8, 3.2, 5, 4, 6, 9, 4.5, 12, 8, 19.5, 10, 15, 7, 17, 11, 8.5,
  21.7, 12, 9, 14, 6, 10, 7, 5, 4, 3.5, 2.8, 4.2, 3, 2.5, 3.6, 2.8, 3.4, 4, 3.2, 2.6, 3.8, 4, 3, 5, 5.5, 8, 4.5, 6, 9, 5, 12, 8, 16, 21.5, 10, 14,
  18, 9, 12, 15, 7, 10, 8, 5, 11, 4.5, 6, 3.5, 3, 3.8, 2.6, 3.2, 2.7, 4, 3.5, 2.8, 4.2, 3, 3.6, 5, 4.5, 7, 9, 11, 6, 14, 18, 8, 12, 21, 10, 15,
  17, 9, 13, 12, 6, 9, 7, 4.5, 5, 3.5, 4, 2.8, 3, 2.6, 3.5, 2.8, 3.2, 2.5, 3.4, 2.7, 3.8, 3, 4, 3.5, 4.5, 6, 5, 7, 5, 9, 6, 11.3, 8, 9, 5.5, 7,
  8, 5, 6.5, 4.5, 5.5, 3.5, 3, 3.5, 2.8, 2.6, 3.2, 2.5, 3, 2.7, 3.3, 2.5, 3, 2.8, 3.2, 2.6, 3.5, 3, 3.8, 4, 5, 4.5, 7, 6, 9, 5.5, 10, 7, 12, 14, 8, 10,
  11, 6, 9, 7, 5, 8, 4.5, 3.5, 5, 3, 3.5, 2.7, 2.6, 3.2, 3, 2.8, 2.5, 3.4, 3, 3.6, 2.7, 3.5, 4, 3, 5, 7, 4.5, 8, 6, 11, 9, 13, 7, 15.5, 8, 11,
  12, 7, 10, 9, 5.5, 13, 6, 4.5, 7, 4, 3.5, 3, 3.2, 2.8, 4, 3, 3.6, 2.7, 3.5, 2.9, 3.8, 3.2, 4.2, 3.6, 5, 7, 6, 9, 13.8, 6.5, 8, 11, 5.5, 10, 7, 9,
  8, 5, 6.5, 5, 4, 6, 3.8, 4.5, 3.2, 3.5, 3, 4, 3.3, 4, 3.6, 3.1, 3.8, 3.4, 3.6, 4.2, 3.2, 4, 3.5, 5, 6, 8, 5, 9, 12, 7, 12, 8, 10, 7, 9, 6,
  8, 5.5, 7, 5, 4, 6, 4, 3.5, 4.5, 3.6, 3.2, 4, 3.5, 4.2, 3.3, 3.8, 3.4, 4.5, 3.5, 4, 3.2, 4.5, 3.8, 5, 6, 9, 5, 8, 6, 10, 11, 7, 9, 12, 8, 13.7,
  10, 6, 8, 6, 4.5, 7, 4.5, 3.8, 5, 3.5, 4, 3.2, 3.8, 3.3, 4.4, 3.4, 4, 3.6, 3.7, 3.2, 4.2, 4, 4.6, 3.6, 5, 7, 6, 8, 6, 11, 9, 7, 12, 15, 8, 10,
  11, 7, 9, 8, 5.5, 7, 6, 4.5, 5.5, 4.5, 3.8, 4, 3.6, 4.2, 3.4, 3.8, 3.3, 4, 3.5, 4, 3.7, 4.5, 5.5, 4, 11.8, 6, 7, 8, 5.5, 6.5, 7, 9, 5.5, 10, 6, 8,
  9, 6, 7.5, 7, 5, 8, 6, 4.5, 5.5, 12.8, 5, 4, 4, 3.5, 4.5, 3.6, 4, 3.2, 3.8, 3.4, 4.2, 4, 4.5, 3.6, 5, 6.5, 4.5, 7, 5.5, 9, 8, 12.3, 6, 12.5, 7, 9,
  9, 6, 7, 6, 4.5, 5.5, 4.5, 3.8, 5, 3.5, 3, 4, 3.2, 2.8, 3.6, 3, 3.5, 2.7, 3.3, 2.9, 3.8, 3.5, 4, 3.2, 4.5, 5.5, 4, 6, 5, 7.5, 8.7, 6, 7, 8, 6.5, 7.5,
  9.5, 6, 8, 7, 5, 6, 5, 4, 4.5, 3.5, 3, 3.8, 3.2, 2.7, 3.5, 2.9, 3.4, 2.6, 3.1, 2.8, 3.6, 3.4, 4, 3, 4.5, 6, 5, 7, 5.5, 9, 12, 7, 10, 11, 6.5, 8.5,
  8, 5.5, 7, 6, 4.5, 5, 4, 3.5, 4.5, 3.2, 2.8, 3.6, 3, 3.4, 2.6, 2.8, 3.2, 2.7, 3.3, 2.9, 3.7, 3.6, 4.2, 3.4, 4.5, 5.5, 5, 6, 8, 5.5, 9, 6.5, 11, 8, 10, 6,
  9, 6, 7.5, 6.5, 5, 5.5, 4.5, 4, 3.6, 3.3, 3, 3.8, 3.1, 2.7, 3.4, 2.9, 3.3, 2.6, 3.2, 2.8, 3.6, 3.5, 4, 3.2, 4.5, 5.5, 4.2, 5.5, 7, 5, 7.5, 6, 8.5, 9.9, 6.5, 8,
  8.5, 6, 7, 6.5, 5, 5.5, 4.5, 4, 3.8, 3.4, 3, 3.8, 3.2, 2.8, 3.5, 3, 3.4, 2.7, 3.3, 2.9, 3.7, 3.6, 4.2, 3.4, 4.4, 5, 4, 5.5, 6.5, 5, 7, 5.5, 6, 8.5, 6, 7.5,
  7.5, 5.5, 8, 6.5, 5, 6, 5, 4.2, 4.6, 4, 3.5, 3.2, 3.3, 2.9, 3.6, 3.1, 3.5, 2.8, 3.4, 3, 3.8, 3.7, 4.3, 3.5, 4.5, 5, 4.2, 5.5, 6.5, 5, 7, 5.5, 6.5, 8.5, 6, 7,
  7.5, 5.5, 6.5, 6, 5, 7, 8.5, 4.5, 5, 4, 3.5, 4.4, 3.4, 3, 3.7, 3.2, 3.6, 2.9, 3.5, 3.1, 3.9, 3.8, 4.3, 3.5, 4.5, 5.5, 4.2, 5.5, 7, 5, 7.5, 6, 8, 9.2, 6.5, 7.5,
  8, 6, 7, 6.5, 5, 5.5, 5, 4.5, 4, 3.8, 3.4, 4.2, 3.5, 3, 3.8, 3.3, 3.7, 3, 3.5, 3.1, 4, 4, 4.6, 3.6, 5, 6, 4.5, 6.5, 5.5, 8, 9, 6.5, 7.5, 11.2, 7, 8.5,
  9, 6.5, 7.5, 7, 5.5, 6, 5.5, 4.5, 5, 4, 3.6, 4.4, 3.6, 3.2, 3.9, 3.4, 3.8, 3.1, 3.6, 3.2, 4, 4, 4.5, 3.7, 5, 5.5, 4.5, 6, 7, 5.5, 7, 6, 8, 8.5, 6, 7,
  7.5, 5.5, 6.5, 6, 5, 7, 5, 4.5, 5.5, 4.2, 3.6, 4.5, 3.6, 3.2, 4, 3.4, 3.9, 3.1, 3.7, 3.3, 4.1, 4.2, 3.8, 4.6, 5, 5.5, 4.6, 6, 7, 5.5, 7.5, 6, 8, 9.8, 6.5, 7.5,
  8, 6, 7, 7.5, 5.5, 6.5, 6, 5, 5.5, 4.6, 4, 5, 3.8, 3.4, 4.2, 3.5, 4, 3.2, 3.8, 3.4, 4.3, 4.2, 4.8, 4, 6, 9.5, 5, 7, 5.5, 8, 8.5, 6.5, 7.5, 8, 6, 7,
  7.5, 5.5, 6.5, 6.5, 5, 6, 5.5, 4.5, 5, 4.2, 3.6, 4.6, 3.6, 3.2, 4, 3.4, 3.8, 3.1, 3.6, 3.2, 4.1, 4.2, 4.8, 3.8, 5, 6, 4.5, 6.5, 5.5, 7.5, 8, 6, 9.4, 8.5, 6.5, 7.5,
  8, 6, 7, 7, 5.5, 6.5, 6, 4.8, 5.5, 4.5, 4, 4.8, 3.8, 3.3, 4.2, 3.5, 3.9, 3.2, 3.7, 3.3, 4.2, 4.3, 4.8, 4, 5, 6, 4.6, 6.5, 5.5, 7, 7.5, 6, 8, 9, 6.5, 8,
  8.5, 6, 7.5, 7, 5.5, 6.5, 6, 4.5, 5.5, 4.2, 3.6, 4.6, 3.5, 3, 3.9, 3, 2.6, 3.4, 2.8, 3.2, 2.5, 3, 3.5, 2.8
];

const serif = "'Liberation Serif', 'Times New Roman', serif";

const x = d3.scaleLinear().domain([1998, 2024]).range([144.4, 1054.2]);

const panels = [
  { top: 51, bottom: 292.3, ymax: 80, major: [0, 20, 40, 60, 80], minor: [10, 30, 50, 70],
    line: siberiaDay, lineLow: siberiaDayLow, dots: europeDay, dotsLow: europeDayLow, dotsPerYear: 12,
    names: ["Europe", "Siberia"], label: "tecu", tag: "(a)", tagY: 92,
    note: "Day", noteX: 162, noteY: 80, legend: [101, 140], dotsOnTop: true },
  { top: 412.3, bottom: 653.3, ymax: 25, major: [0, 5, 10, 15, 20, 25], minor: [2.5, 7.5, 12.5, 17.5, 22.5],
    line: siberiaNight, lineLow: siberiaNightLow, dots: europeNight, dotsLow: europeNightLow, dotsPerYear: 12,
    names: ["Europe", "Siberia"], label: "tecu", tag: "(b)", tagY: 462,
    note: "Night", noteX: 157, noteY: 431, legend: [420.7, 459], dotsOnTop: false },
  { top: 747.3, bottom: 988.7, ymax: 12, major: [0, 2, 4, 6, 8, 10, 12], minor: [1, 3, 5, 7, 9, 11],
    line: siberiaR, lineLow: siberiaRLow, dots: europeR, dotsLow: europeRLow, dotsPerYear: 12,
    names: ["Europe", "Siberia"], label: "r1", tag: "(c)", tagY: 792,
    legend: [782.3, 821], dotsOnTop: true, ref: [1997.64, 2024.05] },
  { top: 1081.7, bottom: 1322.7, ymax: 12, major: [0, 2, 4, 6, 8, 10, 12], minor: [1, 3, 5, 7, 9, 11],
    line: siberiaR, lineLow: siberiaRLow, dots: japanR, dotsLow: japanRLow, dotsPerYear: 12,
    names: ["Japan", "Siberia"], label: "r1", tag: "(d)", tagY: 1130,
    legend: [1126.7, 1165.7], dotsOnTop: false, ref: [1997.64, 2024.05] },
  { top: 1407.3, bottom: 1649.3, ymax: 22, major: [0, 4, 8, 12, 16, 20], minor: [2, 6, 10, 14, 18, 22],
    line: australiaR, lineLow: australiaRLow, dots: canadaR, dotsPerYear: 36,
    names: ["Canada", "Australia"], label: "r2", tag: "(e)", tagY: 1455,
    legend: [1452.3, 1490], legendX: 122, dotsOnTop: true, ref: [1998, 2017.78] }
];

const svg = d3.select("#chart");

// page background bits around the figure
svg.append("rect").attr("width", 1084).attr("height", 1727).attr("fill", "#f3f3f3");
svg.append("text").attr("x", -15).attr("y", 418).text("a")
  .attr("font-family", "'Open Sans', sans-serif").attr("font-size", 88).attr("fill", "#0e6a6a");
svg.append("text").attr("x", -28).attr("y", 721).text("a")
  .attr("font-family", "'Open Sans', sans-serif").attr("font-size", 88).attr("fill", "#0e6a6a");
svg.append("rect").attr("x", 31).attr("y", 3.5).attr("width", 1034).attr("height", 1724).attr("fill", "#fff");

// upper reading at the start of the month, lower reading mid-month
function readings(hi, lo, perYear) {
  const pts = [];
  hi.forEach((v, i) => {
    pts.push({ t: startYear + i / perYear, v: v });
    if (lo) pts.push({ t: startYear + (i + 0.5) / perYear, v: lo[i] });
  });
  return pts;
}

function styleAxis(g) {
  g.selectAll("line, path").attr("stroke", "#333").attr("stroke-width", 1.5);
  g.selectAll("text").attr("font-family", serif).attr("font-size", 26).attr("fill", "#111");
}

const minorYears = d3.range(1999, 2025).filter(yr => majorYears.indexOf(yr) < 0);

panels.forEach(p => {
  const y = d3.scaleLinear().domain([0, p.ymax]).range([p.bottom, p.top]);
  const g = svg.append("g");

  // y axis
  const gy = g.append("g").attr("transform", `translate(${x(1998)},0)`)
    .call(d3.axisLeft(y).tickValues(p.major).tickSize(25).tickPadding(11).tickSizeOuter(0));
  const gyMinor = g.append("g").attr("transform", `translate(${x(1998)},0)`)
    .call(d3.axisLeft(y).tickValues(p.minor).tickSize(13).tickFormat("").tickSizeOuter(0));
  gyMinor.select(".domain").remove();
  styleAxis(gy); styleAxis(gyMinor);

  // x axis
  const gx = g.append("g").attr("transform", `translate(0,${p.bottom})`)
    .call(d3.axisBottom(x).tickValues(majorYears).tickSize(24).tickFormat(d3.format("d")));
  gx.select(".domain").remove();
  gx.selectAll("text").attr("x", 3).attr("y", 46).attr("dy", null).attr("text-anchor", "start");
  const gxMinor = g.append("g").attr("transform", `translate(0,${p.bottom})`)
    .call(d3.axisBottom(x).tickValues(minorYears).tickSize(12).tickFormat(""));
  gxMinor.select(".domain").remove();
  styleAxis(gx); styleAxis(gxMinor);
  g.append("line").attr("x1", x(1997.3)).attr("x2", x(2024.05))
    .attr("y1", p.bottom).attr("y2", p.bottom).attr("stroke", "#333").attr("stroke-width", 1.5);

  // R = 1 reference line
  if (p.ref) {
    g.append("line").attr("x1", x(p.ref[0])).attr("x2", x(p.ref[1]))
      .attr("y1", y(1)).attr("y2", y(1)).attr("stroke", "#9a9a9a").attr("stroke-width", 1.5);
  }

  // y label
  const yl = g.append("text")
    .attr("transform", `translate(62,${(p.top + p.bottom) / 2}) rotate(-90)`)
    .attr("text-anchor", "middle").attr("font-family", serif).attr("font-size", 27).attr("fill", "#111");
  if (p.label === "tecu") {
    yl.append("tspan").text("<");
    yl.append("tspan").attr("font-style", "italic").text("I");
    yl.append("tspan").text(">, TECU");
  } else if (p.label === "r1") {
    yl.append("tspan").attr("font-style", "italic").text("R");
    yl.append("tspan").text(", rel. units");
  } else {
    yl.append("tspan").text("R, ");
    yl.append("tspan").attr("font-style", "italic").text("rel. units");
  }

  // data
  const line = d3.line().x(d => x(d.t)).y(d => y(d.v));
  const drawLine = () => g.append("path").datum(readings(p.line, p.lineLow, 12))
    .attr("d", line).attr("fill", "none").attr("stroke", "#000").attr("stroke-width", 1.1)
    .attr("stroke-linejoin", "round");
  const drawDots = () => g.append("g").selectAll("circle")
    .data(readings(p.dots, p.dotsLow, p.dotsPerYear)).join("circle")
    .attr("cx", d => x(d.t)).attr("cy", d => y(d.v)).attr("r", 1.7).attr("fill", "#0000ff");
  if (p.dotsOnTop) { drawLine(); drawDots(); } else { drawDots(); drawLine(); }

  // legend
  const leg = g.append("g").attr("transform", `translate(${p.legendX || 0},0)`);
  leg.selectAll("circle.key").data([411.5, 455.6, 499.3]).join("circle")
    .attr("cx", d => d).attr("cy", p.legend[0]).attr("r", 7.5).attr("fill", "#0000ff");
  leg.append("line").attr("x1", 407).attr("x2", 503).attr("y1", p.legend[1]).attr("y2", p.legend[1])
    .attr("stroke", "#000").attr("stroke-width", 2);
  leg.selectAll("text").data(p.names).join("text")
    .attr("x", 527).attr("y", (d, i) => p.legend[i] + 11).text(d => d)
    .attr("font-family", serif).attr("font-size", 28).attr("fill", "#111");

  // panel tag and note
  g.append("text").attr("x", 956).attr("y", p.tagY).attr("text-anchor", "middle").text(p.tag)
    .attr("font-family", serif).attr("font-size", 40).attr("fill", "#111");
  if (p.note) {
    g.append("text").attr("x", p.noteX).attr("y", p.noteY).text(p.note)
      .attr("font-family", serif).attr("font-size", 27).attr("fill", "#111");
  }
});

svg.append("text").attr("x", 597).attr("y", 1720).attr("text-anchor", "middle").text("Year")
  .attr("font-family", serif).attr("font-size", 28).attr("fill", "#111");
</script>
</body>
</html>
